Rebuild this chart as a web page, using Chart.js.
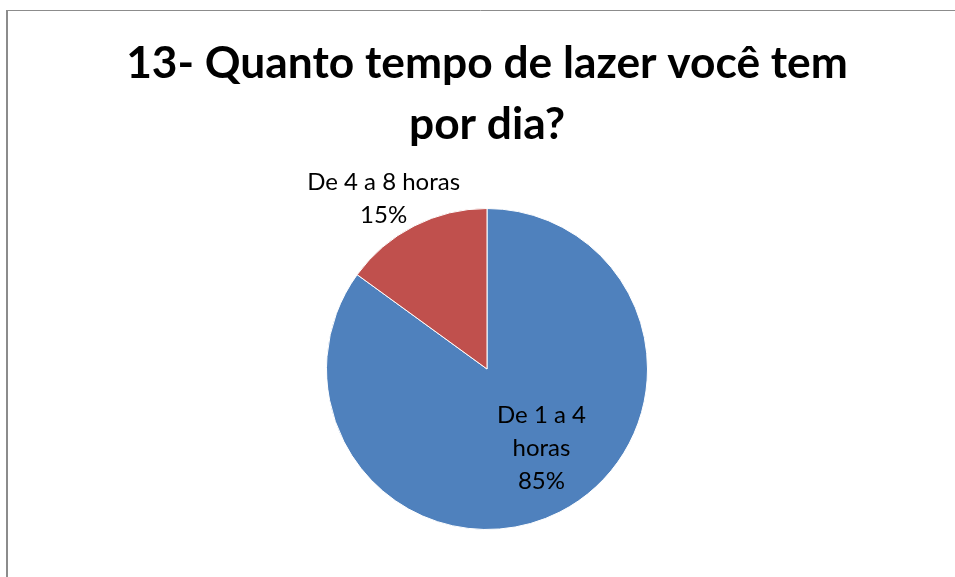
<!DOCTYPE html>
<html><head><meta charset="utf-8">
<script src="https://cdn.jsdelivr.net/npm/chart.js@4"></script>
<style>html,body{margin:0;padding:0;background:#fff;overflow:hidden}#c{display:block}</style>
</head><body>
<canvas id="c" width="955" height="577"></canvas>
<script>
const titleLines = ["13- Quanto tempo de lazer você tem", "por dia?"];
const categories = ["De 1 a 4 horas", "De 4 a 8 horas"];
const labelLines = [["De 1 a 4", "horas"], ["De 4 a 8 horas"]];
const values = [85, 15];
const colors = ["#4F81BD", "#C0504D"];

function fitFont(ctx, text, weight, family, targetW) {
  ctx.font = weight + " 100px " + family;
  const w = ctx.measureText(text).width;
  return 100 * targetW / w;
}

const decor = {
  id: 'decor',
  beforeDraw(chart) {
    const ctx = chart.ctx;
    ctx.save();
    ctx.fillStyle = '#fff';
    ctx.fillRect(0, 0, chart.width, chart.height);
    ctx.strokeStyle = '#8c8c8c';
    ctx.lineWidth = 1;
    ctx.beginPath(); ctx.moveTo(6, 10.5); ctx.lineTo(chart.width, 10.5); ctx.stroke();
    ctx.lineWidth = 2;
    ctx.beginPath(); ctx.moveTo(7, 10); ctx.lineTo(7, chart.height); ctx.stroke();
    // title
    const fam = 'Lato';
    const size = fitFont(ctx, titleLines[0], 'bold', fam, 722);
    ctx.font = 'bold ' + size + 'px ' + fam;
    ctx.fillStyle = '#000';
    ctx.textAlign = 'center';
    ctx.textBaseline = 'middle';
    ctx.fillText(titleLines[0], 487, 64);
    ctx.fillText(titleLines[1], 487, 125);
    ctx.restore();
  },
  afterDatasetsDraw(chart) {
    const ctx = chart.ctx;
    const meta = chart.getDatasetMeta(0);
    const total = values.reduce((a, b) => a + b, 0);
    const fam = 'Lato';
    const size = fitFont(ctx, 'De 4 a 8 horas', 'normal', fam, 153);
    ctx.save();
    ctx.font = size + 'px ' + fam;
    ctx.fillStyle = '#000';
    ctx.textAlign = 'center';
    ctx.textBaseline = 'middle';
    const factors = [0.6, 1.24];
    const angOff = [-0.13, -0.075];
    meta.data.forEach((arc, i) => {
      const p = arc.getProps(['x', 'y', 'startAngle', 'endAngle', 'outerRadius']);
      const a = (p.startAngle + p.endAngle) / 2 + angOff[i];
      const r = p.outerRadius * factors[i];
      const cx = p.x + Math.cos(a) * r, cy = p.y + Math.sin(a) * r;
      const lines = labelLines[i].concat([Math.round(values[i] / total * 100) + '%']);
      const lh = 33;
      lines.forEach((t, k) => {
        ctx.fillText(t, cx, cy + (k - (lines.length - 1) / 2) * lh);
      });
    });
    ctx.restore();
  }
};

new Chart(document.getElementById('c'), {
  type: 'pie',
  data: {
    labels: categories,
    datasets: [{ data: values, backgroundColor: colors, borderColor: '#fff', borderWidth: 1 }]
  },
  options: {
    responsive: false,
    animation: false,
    layout: { padding: { top: 208, bottom: 47, left: 19, right: 0 } },
    plugins: { legend: { display: false }, tooltip: { enabled: false }, title: { display: false } }
  },
  plugins: [decor]
});
</script>
</body></html>
